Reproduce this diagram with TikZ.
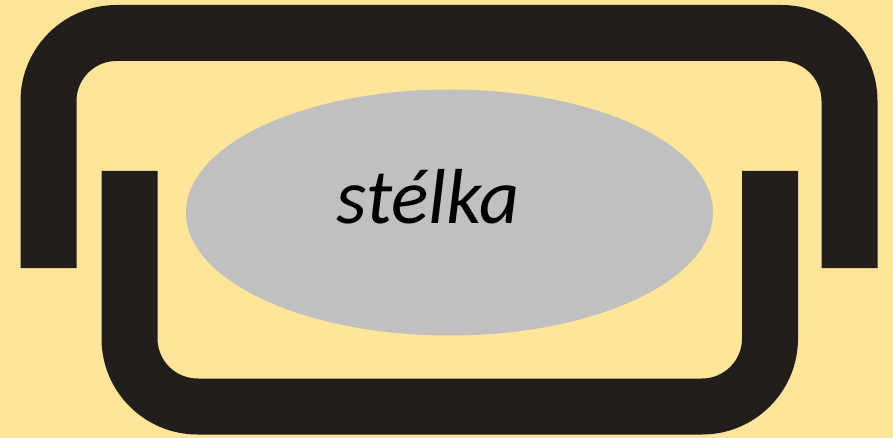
\documentclass[tikz,border=0pt]{standalone}
\usetikzlibrary{shapes.geometric}
\usepackage{fontspec}
\setmainfont{Carlito}
\definecolor{bgyel}{HTML}{FFE599}
\definecolor{barblk}{HTML}{221E1C}
\definecolor{thgray}{HTML}{C0C0C0}
\begin{document}
\begin{tikzpicture}[x=1pt,y=-1pt,
  bracket/.style={draw=barblk,line width=56pt,rounded corners=68pt,line cap=butt,line join=round}]
\fill[bgyel] (0,0) rectangle (893,438);
\useasboundingbox (0,0) rectangle (893,438);
\coordinate (tl) at (48.5,268);
\coordinate (tr) at (849.5,268);
\coordinate (bl) at (129.5,171);
\coordinate (br) at (770,171);
\draw[bracket] (tl) -- (48.5,33) -- (849.5,33) -- (tr);
\draw[bracket] (bl) -- (129.5,406.5) -- (770,406.5) -- (br);
\node[ellipse,fill=thgray,minimum width=527pt,minimum height=246pt,inner sep=0pt] (th) at (449.5,212.5) {};
\node[font=\fontsize{78}{90}\selectfont\itshape,inner sep=0pt,anchor=base] (lbl) at (428,224) {stélka};
\end{tikzpicture}
\end{document}
